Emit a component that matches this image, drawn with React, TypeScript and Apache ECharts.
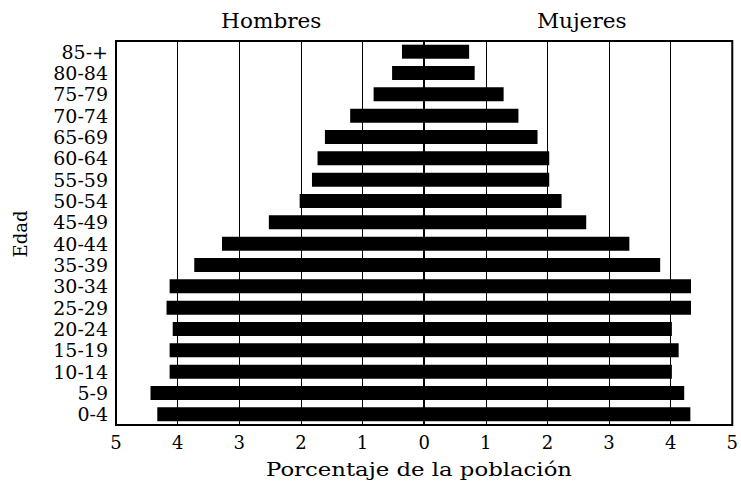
import React, { useEffect, useRef } from "react";
import * as echarts from "echarts";

const categories = ["0-4", "5-9", "10-14", "15-19", "20-24", "25-29", "30-34", "35-39", "40-44", "45-49", "50-54", "55-59", "60-64", "65-69", "70-74", "75-79", "80-84", "85-+"];
const hombres = [4.33, 4.44, 4.13, 4.13, 4.08, 4.18, 4.13, 3.73, 3.28, 2.52, 2.02, 1.82, 1.73, 1.61, 1.2, 0.82, 0.52, 0.36];
const mujeres = [4.32, 4.22, 4.02, 4.13, 4.02, 4.33, 4.33, 3.83, 3.33, 2.63, 2.23, 2.03, 2.03, 1.84, 1.53, 1.29, 0.82, 0.73];
const xTicks = [-5, -4, -3, -2, -1, 0, 1, 2, 3, 4, 5];

const FONT = "DejaVu Serif";

export default function App() {
  const ref = useRef<HTMLDivElement>(null);
  useEffect(() => {
    document.body.style.margin = "0";
    const chart = echarts.init(ref.current!, null, { renderer: "svg" });
    const gridLeft = 116;
    const gridRight = 4;
    const plotW = 741 - gridLeft - gridRight;
    chart.setOption({
      animation: false,
      backgroundColor: "#ffffff",
      grid: {
        left: gridLeft,
        right: gridRight,
        top: 41,
        bottom: 64,
        show: true,
        borderColor: "#000",
        borderWidth: 2,
        backgroundColor: "transparent",
      },
      graphic: [
        {
          type: "text",
          x: gridLeft + plotW / 4,
          y: 21,
          scaleX: 1.08,
          style: { text: "Hombres", font: `20px '${FONT}'`, fill: "#000", align: "center", verticalAlign: "middle" },
        },
        {
          type: "text",
          x: gridLeft + (plotW * 3) / 4,
          y: 21,
          scaleX: 1.08,
          style: { text: "Mujeres", font: `20px '${FONT}'`, fill: "#000", align: "center", verticalAlign: "middle" },
        },
        {
          type: "text",
          x: 419,
          y: 470,
          scaleX: 1.2,
          style: { text: "Porcentaje de la población", font: `19px '${FONT}'`, fill: "#000", align: "center", verticalAlign: "middle" },
        },
        {
          type: "text",
          x: 20,
          y: 234,
          rotation: Math.PI / 2,
          style: { text: "Edad", font: `18px '${FONT}'`, fill: "#000", align: "center", verticalAlign: "middle" },
        },
      ],
      xAxis: {
        type: "value",
        min: xTicks[0],
        max: xTicks[xTicks.length - 1],
        interval: 1,
        axisLine: { show: false },
        axisTick: { show: false },
        splitLine: { show: true, lineStyle: { color: "#000", width: 1 } },
        axisLabel: {
          color: "#000",
          fontFamily: FONT,
          fontSize: 18,
          margin: 8,
          formatter: (v: number) => String(Math.abs(v)),
        },
      },
      yAxis: {
        type: "category",
        data: categories,
        axisLine: { show: false },
        axisTick: { show: false },
        splitLine: { show: false },
        axisLabel: { color: "#000", fontFamily: FONT, fontSize: 19, margin: 8, interval: 0 },
      },
      series: [
        {
          name: "Hombres",
          type: "bar",
          stack: "total",
          barWidth: 14,
          data: hombres.map((v) => -v),
          itemStyle: { color: "#000" },
          markLine: {
            silent: true,
            symbol: "none",
            label: { show: false },
            lineStyle: { color: "#000", width: 2, type: "solid" },
            data: [{ xAxis: 0 }],
          },
        },
        {
          name: "Mujeres",
          type: "bar",
          stack: "total",
          barWidth: 14,
          data: mujeres,
          itemStyle: { color: "#000" },
        },
      ],
    });
    return () => chart.dispose();
  }, []);
  return <div ref={ref} style={{ width: 741, height: 489 }} />;
}
